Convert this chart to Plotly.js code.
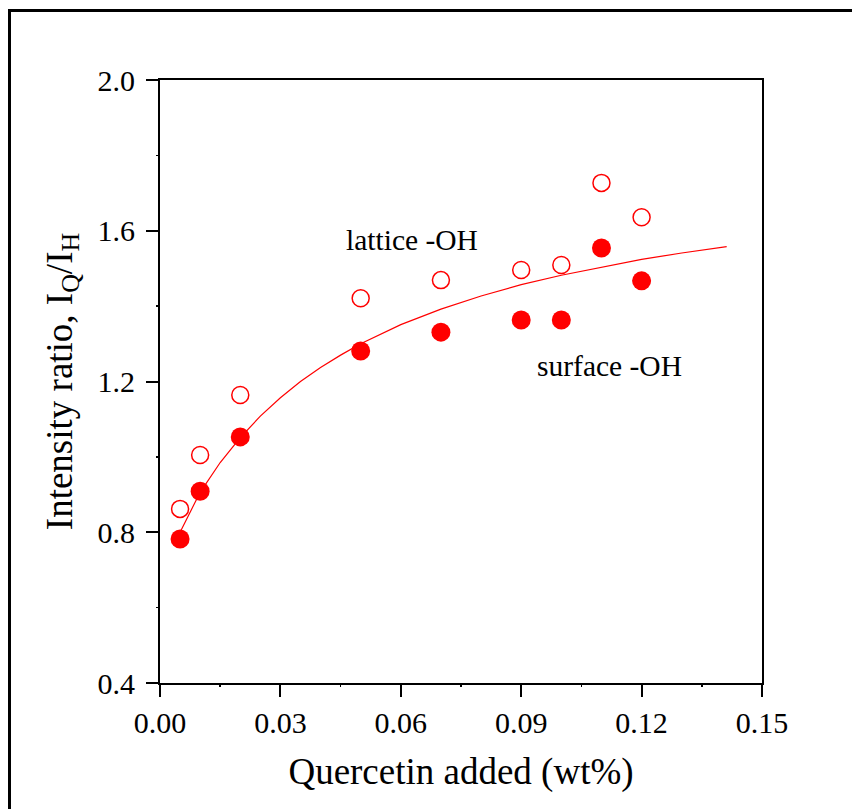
<!DOCTYPE html>
<html>
<head>
<meta charset="utf-8">
<script src="https://cdn.plot.ly/plotly-3.0.1.min.js"></script>
<style>
  html, body { margin: 0; padding: 0; background: #fff; overflow: hidden; }
  #frame { position: absolute; left: 8px; top: 9px; width: 900px; height: 900px;
           border-left: 3px solid #000; border-top: 3px solid #000; pointer-events: none; z-index: 5; }
  #chart { position: absolute; left: 0; top: 0; width: 852px; height: 809px; }
</style>
</head>
<body>
<div id="chart"></div>
<div id="frame"></div>
<script>
// Quercetin added (wt%)
const quercetin = [0.005, 0.01, 0.02, 0.05, 0.07, 0.09, 0.10, 0.11, 0.12];
// lattice -OH (open circles)
const latticeOH = [0.862, 1.005, 1.164, 1.421, 1.469, 1.496, 1.509, 1.727, 1.636];
// surface -OH (filled circles)
const surfaceOH = [0.782, 0.909, 1.053, 1.281, 1.331, 1.363, 1.363, 1.554, 1.467];
// fitted curve
const fitX = [0.005, 0.01, 0.015, 0.02, 0.025, 0.03, 0.035, 0.04, 0.045, 0.05, 0.06, 0.07, 0.08, 0.09, 0.10, 0.11, 0.12, 0.13, 0.1412];
const fitY = [0.80, 0.906, 0.985, 1.051, 1.108, 1.157, 1.200, 1.237, 1.270, 1.300, 1.351, 1.392, 1.427, 1.457, 1.482, 1.504, 1.524, 1.541, 1.558];
const xTicks = [0.00, 0.03, 0.06, 0.09, 0.12, 0.15];
const xTickText = ["0.00", "0.03", "0.06", "0.09", "0.12", "0.15"];
const yTicks = [0.4, 0.8, 1.2, 1.6, 2.0];
const yTickText = ["0.4", "0.8", "1.2", "1.6", "2.0"];

const red = '#ff0000';
const FONT = 'Liberation Serif, Times New Roman, serif';

const traces = [
  { x: fitX, y: fitY, mode: 'lines', line: { color: red, width: 1.2 }, hoverinfo: 'skip' },
  { x: quercetin, y: latticeOH, mode: 'markers',
    marker: { symbol: 'circle-open', size: 17, color: red, line: { color: red, width: 1.5 } } },
  { x: quercetin, y: surfaceOH, mode: 'markers',
    marker: { symbol: 'circle', size: 19, color: red, line: { width: 0 } } }
];

const axisCommon = {
  showgrid: false, zeroline: false, showline: true, linecolor: '#000', linewidth: 2,
  mirror: true, ticks: 'outside', ticklen: 12, tickwidth: 2, tickcolor: '#000',
  tickfont: { family: FONT, size: 30, color: '#000' }
};

const layout = {
  width: 852, height: 809,
  margin: { l: 160, r: 90, t: 80, b: 126 },
  paper_bgcolor: '#fff', plot_bgcolor: '#fff',
  showlegend: false,
  xaxis: Object.assign({}, axisCommon, {
    range: [0, 0.15], tickmode: 'array', tickvals: xTicks, ticktext: xTickText,
    minor: { dtick: 0.015, ticklen: 2, tickwidth: 1.5, tickcolor: '#000', ticks: 'outside' },
    title: { text: 'Quercetin added (wt%)', font: { family: FONT, size: 37, color: '#000' }, standoff: 20 }
  }),
  yaxis: Object.assign({}, axisCommon, {
    range: [0.4, 2.0], tickmode: 'array', tickvals: yTicks, ticktext: yTickText,
    ticklabelstandoff: 5,
    minor: { dtick: 0.2, ticklen: 2, tickwidth: 1.5, tickcolor: '#000', ticks: 'outside' },
    title: { text: 'Intensity ratio, I<sub>Q</sub>/I<sub>H</sub>', font: { family: FONT, size: 37, color: '#000' }, standoff: 14 }
  }),
  annotations: [
    { x: 0.0628, y: 1.575, xref: 'x', yref: 'y', text: 'lattice -OH', showarrow: false,
      font: { family: FONT, size: 29.5, color: '#000' }, xanchor: 'center', yanchor: 'middle' },
    { x: 0.112, y: 1.241, xref: 'x', yref: 'y', text: 'surface -OH', showarrow: false,
      font: { family: FONT, size: 29.5, color: '#000' }, xanchor: 'center', yanchor: 'middle' }
  ]
};

Plotly.newPlot('chart', traces, layout, { displayModeBar: false, staticPlot: true });
</script>
</body>
</html>
